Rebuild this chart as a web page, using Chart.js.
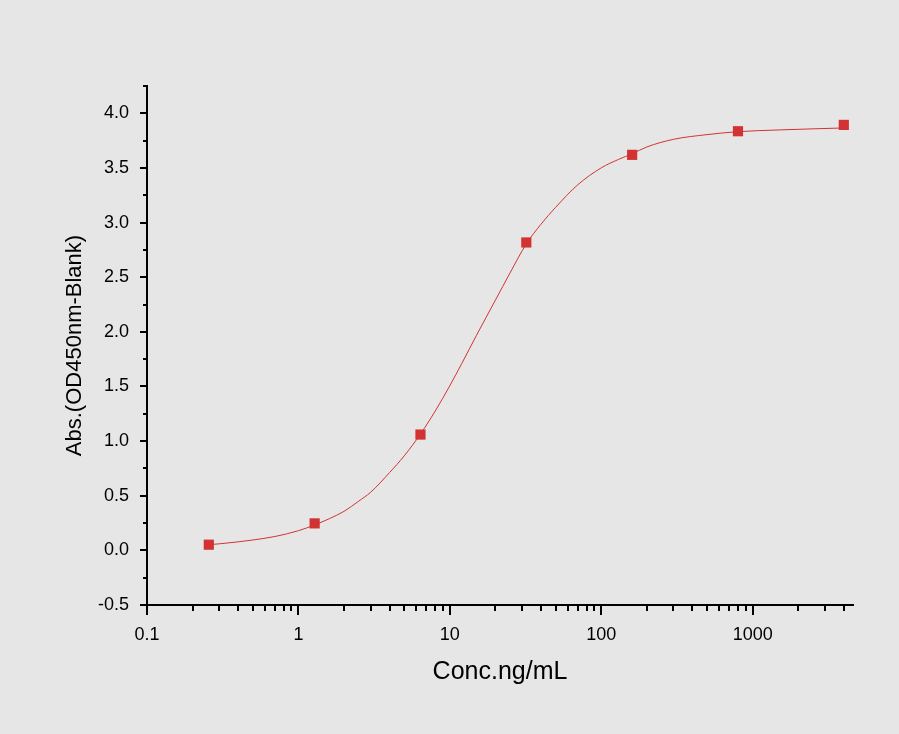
<!DOCTYPE html>
<html lang="en">
<head>
    <meta charset="UTF-8">
    <title>Abs vs Conc</title>
    <script src="https://cdn.jsdelivr.net/npm/chart.js@4.4.1/dist/chart.umd.min.js"></script>
    <style>
        html, body { margin: 0; padding: 0; background: #e6e6e6; }
        canvas { display: block; }
    </style>
</head>
<body>
    <canvas id="curveChart" width="899" height="734"></canvas>

    <script>
        // measured points (ng/mL, OD450 - blank)
        const conc = [0.256, 1.28, 6.4, 32, 160, 800, 4000];
        const absValues = [0.052, 0.247, 1.06, 2.818, 3.62, 3.836, 3.894];

        // fitted curve
        const fitConc = [0.256, 0.3, 0.4, 0.5, 0.7, 1, 1.28, 1.6, 2, 2.5, 3, 4, 5, 6.4, 8, 10, 12, 15, 20, 25,
                         32, 40, 50, 70, 100, 130, 160, 200, 300, 500, 800, 1500, 2500, 4000];
        const fitAbs = [0.052, 0.060, 0.078, 0.095, 0.127, 0.180, 0.233, 0.290, 0.357, 0.450, 0.532, 0.712, 0.865,
                        1.065, 1.274, 1.507, 1.711, 1.968, 2.290, 2.540, 2.805, 2.985, 3.140, 3.346, 3.501, 3.578,
                        3.630, 3.692, 3.762, 3.805, 3.832, 3.848, 3.858, 3.866];

        const xTickLabels = [0.1, 1, 10, 100, 1000];
        const yTickLabels = [-0.5, 0, 0.5, 1, 1.5, 2, 2.5, 3, 3.5, 4];

        const red = 'rgb(210, 50, 50)';
        const fontFamily = "'Liberation Sans', Arial, sans-serif";

        // major + minor tick marks drawn outside the plot, Origin style
        const tickMarks = {
            id: 'tickMarks',
            afterDraw(chart) {
                const ctx = chart.ctx;
                const xs = chart.scales.x;
                const ys = chart.scales.y;
                ctx.save();
                ctx.strokeStyle = '#000';
                ctx.lineWidth = 2;
                ctx.beginPath();
                // y: every 0.25, major every 0.5
                for (let v = -0.5; v <= 4.25 + 1e-9; v += 0.25) {
                    const py = Math.round(ys.getPixelForValue(v));
                    const major = Math.abs(v * 2 - Math.round(v * 2)) < 1e-6;
                    ctx.moveTo(ys.right, py);
                    ctx.lineTo(ys.right - (major ? 7 : 4), py);
                }
                // x: decades major, 2..9 minor
                for (let e = -1; e <= 3; e++) {
                    for (let m = 1; m <= 9; m++) {
                        const v = m * Math.pow(10, e);
                        if (v > xs.max) break;
                        const px = Math.round(xs.getPixelForValue(v));
                        ctx.moveTo(px, xs.top);
                        ctx.lineTo(px, xs.top + (m === 1 ? 10 : 6));
                    }
                }
                ctx.stroke();
                ctx.restore();
            }
        };

        const ctx = document.getElementById('curveChart').getContext('2d');
        const chart = new Chart(ctx, {
            type: 'scatter',
            data: {
                datasets: [{
                    label: 'fit',
                    data: fitConc.map((c, i) => ({ x: c, y: fitAbs[i] })),
                    showLine: true,
                    borderColor: red,
                    borderWidth: 1,
                    pointRadius: 0,
                    cubicInterpolationMode: 'monotone',
                    order: 2
                }, {
                    label: 'data',
                    data: conc.map((c, i) => ({ x: c, y: absValues[i] })),
                    pointStyle: 'rect',
                    pointRadius: 7.2,
                    backgroundColor: red,
                    borderColor: red,
                    borderWidth: 0,
                    order: 1
                }]
            },
            options: {
                responsive: false,
                animation: false,
                devicePixelRatio: 1,
                layout: { padding: { top: 86, right: 46, bottom: 0, left: 0 } },
                plugins: {
                    legend: { display: false },
                    tooltip: { enabled: false }
                },
                scales: {
                    x: {
                        type: 'logarithmic',
                        min: 0.1,
                        max: 4600,
                        afterFit: (s) => { s.height = 129; },
                        afterBuildTicks: (s) => { s.ticks = xTickLabels.map(v => ({ value: v })); },
                        grid: { display: false, drawTicks: false },
                        border: { display: true, color: '#000', width: 2 },
                        ticks: {
                            autoSkip: false,
                            maxRotation: 0,
                            padding: 19,
                            color: '#000',
                            font: { family: fontFamily, size: 18 },
                            callback: (v) => String(v)
                        },
                        title: {
                            display: true,
                            text: 'Conc.ng/mL',
                            color: '#000',
                            font: { family: fontFamily, size: 25 },
                            padding: { top: 0, bottom: 47 }
                        }
                    },
                    y: {
                        min: -0.5,
                        max: 4.25,
                        afterFit: (s) => { s.width = 147; },
                        afterBuildTicks: (s) => { s.ticks = yTickLabels.map(v => ({ value: v })); },
                        grid: { display: false, drawTicks: false },
                        border: { display: true, color: '#000', width: 2 },
                        ticks: {
                            padding: 18,
                            color: '#000',
                            font: { family: fontFamily, size: 18 },
                            callback: (v) => v.toFixed(1)
                        },
                        title: {
                            display: true,
                            text: 'Abs.(OD450nm-Blank)',
                            color: '#000',
                            font: { family: fontFamily, size: 22 },
                            padding: { top: 62, bottom: 0 }
                        }
                    }
                }
            },
            plugins: [tickMarks]
        });
    </script>
</body>
</html>
